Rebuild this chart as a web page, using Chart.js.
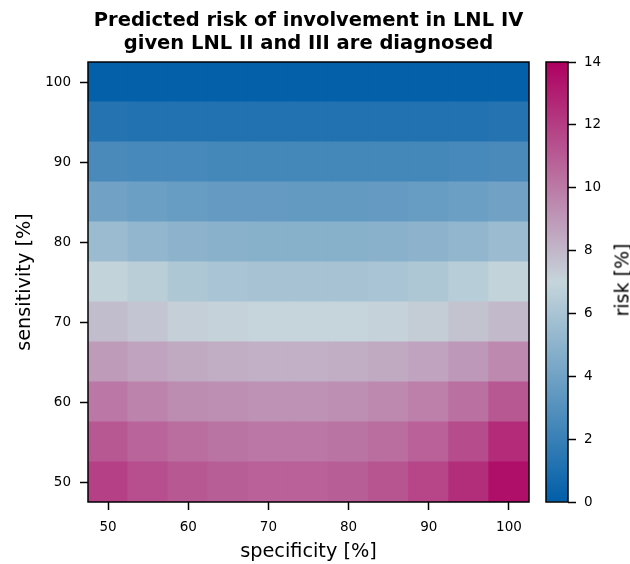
<!DOCTYPE html>
<html>
<head>
<meta charset="utf-8">
<script src="https://cdn.jsdelivr.net/npm/chart.js@4"></script>
<style>
  html, body { margin: 0; padding: 0; background: #ffffff; }
  #wrap { position: relative; width: 630px; height: 564px; font-family: "DejaVu Sans", sans-serif; }
  #main { position: absolute; left: 0; top: 0; }
  #cbar { position: absolute; left: 530px; top: 0; }
  #cblabel { position: absolute; left: 622px; top: 280px; transform: translate(-50%, -50%) rotate(-90deg);
             font-size: 19px; color: #000; white-space: nowrap; line-height: 1; }
</style>
</head>
<body>
<div id="wrap">
  <canvas id="main" width="617" height="564"></canvas>
  <canvas id="cbar" width="100" height="564"></canvas>
  <div id="cblabel">risk [%]</div>
</div>
<script>
// ---- data ----
const specificity = [50, 55, 60, 65, 70, 75, 80, 85, 90, 95, 100];
const sensitivity = [50, 55, 60, 65, 70, 75, 80, 85, 90, 95, 100];
// risk [%] per sensitivity row, columns in order of `specificity`
const risk50  = [11.9, 11.4, 11.1, 10.9, 10.8, 10.8, 10.9, 11.2, 11.7, 12.5, 13.5];
const risk55  = [11.1, 10.7, 10.4, 10.2, 10.1, 10.1, 10.2, 10.4, 10.8, 11.5, 12.6];
const risk60  = [10.1, 9.7, 9.4, 9.3, 9.2, 9.2, 9.3, 9.5, 9.8, 10.3, 11.1];
const risk65  = [8.9, 8.6, 8.4, 8.3, 8.2, 8.2, 8.3, 8.4, 8.6, 9.0, 9.5];
const risk70  = [7.8, 7.5, 7.2, 7.1, 7.0, 7.0, 7.0, 7.1, 7.3, 7.6, 7.9];
const risk75  = [6.9, 6.6, 6.2, 6.0, 5.9, 5.9, 5.9, 6.0, 6.2, 6.5, 6.9];
const risk80  = [5.5, 5.2, 5.0, 4.9, 4.8, 4.8, 4.8, 4.9, 5.0, 5.2, 5.5];
const risk85  = [4.0, 3.8, 3.7, 3.6, 3.6, 3.5, 3.5, 3.6, 3.7, 3.8, 4.0];
const risk90  = [2.6, 2.5, 2.5, 2.4, 2.4, 2.4, 2.4, 2.4, 2.4, 2.5, 2.6];
const risk95  = [1.3, 1.2, 1.2, 1.2, 1.2, 1.2, 1.2, 1.2, 1.2, 1.2, 1.3];
const risk100 = [0.1, 0.1, 0.1, 0.1, 0.1, 0.1, 0.1, 0.1, 0.1, 0.1, 0.1];
const riskRows = [risk50, risk55, risk60, risk65, risk70, risk75, risk80, risk85, risk90, risk95, risk100];
const xTicks = [50, 60, 70, 80, 90, 100];
const yTicks = [50, 60, 70, 80, 90, 100];
const cbarTicks = [0, 2, 4, 6, 8, 10, 12, 14];
const riskMin = 0, riskMax = 14;
const cellStep = 5;

// ---- colormap (blue -> gray -> red) ----
const cmapStops = [[0, 94, 168], [197, 213, 219], [174, 0, 96]];
function cmap(v) {
  let t = (v - riskMin) / (riskMax - riskMin);
  t = Math.max(0, Math.min(1, t));
  const s = t * (cmapStops.length - 1);
  const i = Math.min(cmapStops.length - 2, Math.floor(s));
  const f = s - i;
  const a = cmapStops[i], b = cmapStops[i + 1];
  const c = a.map((x, k) => Math.round(x + (b[k] - x) * f));
  return `rgb(${c[0]},${c[1]},${c[2]})`;
}

const FONT = "'DejaVu Sans', sans-serif";
Chart.defaults.font.family = FONT;
Chart.defaults.color = '#000';
const TICK_LEN = 8;

const frame = {
  id: 'frame',
  afterDatasetsDraw(chart) {
    const { ctx, chartArea: a } = chart;
    ctx.save();
    ctx.strokeStyle = '#000';
    ctx.lineWidth = 1.5;
    ctx.strokeRect(a.left, a.top, a.right - a.left, a.bottom - a.top);
    ctx.restore();
  }
};

const half = cellStep / 2;
const datasets = sensitivity.map((s, r) => ({
  label: 'sensitivity ' + s,
  data: specificity.map(sp => ({ x: sp, y: [s - half, s + half] })),
  backgroundColor: riskRows[r].map(cmap),
  borderWidth: 0,
  inflateAmount: 0.6,
  grouped: false,
  barPercentage: 1.0,
  categoryPercentage: 1.0
}));

function tickGrid() {
  return { display: true, offset: false, drawOnChartArea: false, drawTicks: true, tickLength: TICK_LEN, tickWidth: 1.5, tickColor: '#000' };
}

new Chart(document.getElementById('main'), {
  type: 'bar',
  data: { datasets },
  plugins: [frame],
  options: {
    responsive: false,
    animation: false,
    layout: { padding: { left: 0, right: 88, top: 0, bottom: 0 } },
    plugins: {
      legend: { display: false },
      tooltip: { enabled: false },
      title: {
        display: true,
        fullSize: false,
        text: ['Predicted risk of involvement in LNL IV', 'given LNL II and III are diagnosed'],
        font: { size: 19.5, weight: 'bold', family: FONT, lineHeight: 1.18 },
        color: '#000',
        padding: { top: 9, bottom: 7 }
      }
    },
    scales: {
      x: {
        type: 'linear',
        position: 'bottom',
        offset: false,
        min: specificity[0] - half,
        max: specificity[specificity.length - 1] + half,
        afterBuildTicks(scale) { scale.ticks = xTicks.map(v => ({ value: v })); },
        grid: tickGrid(),
        border: { display: false },
        ticks: { font: { size: 13.5, family: FONT }, color: '#000', padding: 9, maxRotation: 0, autoSkip: false },
        title: { display: true, text: 'specificity [%]', font: { size: 19.3, family: FONT }, color: '#000', padding: { top: 4, bottom: 0 } },
        afterFit(scale) { scale.height = 62; }
      },
      y: {
        type: 'linear',
        min: sensitivity[0] - half,
        max: sensitivity[sensitivity.length - 1] + half,
        afterBuildTicks(scale) { scale.ticks = yTicks.map(v => ({ value: v })); },
        grid: tickGrid(),
        border: { display: false },
        ticks: { font: { size: 13.5, family: FONT }, color: '#000', padding: 9 },
        title: { display: true, text: 'sensitivity [%]', font: { size: 19.3, family: FONT }, color: '#000', padding: { top: 13, bottom: 0 } },
        afterFit(scale) { scale.width = 88; }
      }
    }
  }
});

new Chart(document.getElementById('cbar'), {
  type: 'bar',
  data: {
    labels: ['risk'],
    datasets: [{
      data: [[riskMin, riskMax]],
      borderWidth: 0,
      barPercentage: 1.0,
      categoryPercentage: 1.0,
      backgroundColor(ctx) {
        const chart = ctx.chart;
        const a = chart.chartArea;
        if (!a) return null;
        const g = chart.ctx.createLinearGradient(0, a.bottom, 0, a.top);
        cmapStops.forEach((c, i) => g.addColorStop(i / (cmapStops.length - 1), `rgb(${c[0]},${c[1]},${c[2]})`));
        return g;
      }
    }]
  },
  plugins: [frame],
  options: {
    responsive: false,
    animation: false,
    layout: { padding: { left: 16, right: 0, top: 62, bottom: 62 } },
    plugins: { legend: { display: false }, tooltip: { enabled: false }, title: { display: false } },
    scales: {
      x: { display: false },
      y: {
        position: 'right',
        min: riskMin,
        max: riskMax,
        afterBuildTicks(scale) { scale.ticks = cbarTicks.map(v => ({ value: v })); },
        grid: tickGrid(),
        border: { display: false },
        ticks: { font: { size: 13.5, family: FONT }, color: '#000', padding: 8 },
        afterFit(scale) { scale.width = 62; }
      }
    }
  }
});
</script>
</body>
</html>
